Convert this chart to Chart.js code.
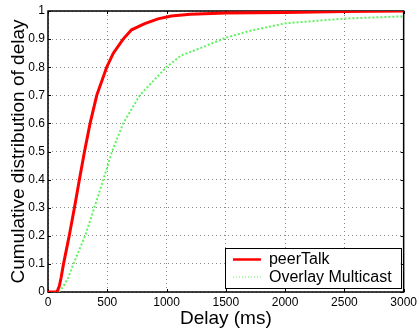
<!DOCTYPE html>
<html>
<head>
<meta charset="utf-8">
<script src="https://cdn.jsdelivr.net/npm/chart.js@4/dist/chart.umd.min.js"></script>
<style>
html,body{margin:0;padding:0;background:#fff;}
canvas{display:block;}
</style>
</head>
<body>
<canvas id="c" width="420" height="329"></canvas>
<script>
// ---- data ----
const seriesNames = ['peerTalk', 'Overlay Multicast'];
const peerTalkDelay = [0, 75, 95, 110, 131, 179, 223, 265, 308, 355, 411, 495, 551, 634, 705, 816, 928, 1040, 1200, 1500, 2000, 2500, 3000];
const peerTalkCdf   = [0, 0, 0.02, 0.05, 0.1, 0.2, 0.3, 0.4, 0.5, 0.6, 0.7, 0.8, 0.85, 0.9, 0.933, 0.955, 0.972, 0.982, 0.988, 0.993, 0.995, 0.998, 1];
const overlayDelay  = [90, 130, 170, 215, 313, 391, 467, 540, 634, 774, 998, 1124, 1279, 1500, 1700, 2000, 2500, 3000];
const overlayCdf    = [0, 0.02, 0.05, 0.1, 0.2, 0.3, 0.4, 0.5, 0.6, 0.7, 0.8, 0.842, 0.867, 0.905, 0.929, 0.956, 0.973, 0.981];
const xTickLabels = ['0', '500', '1000', '1500', '2000', '2500', '3000'];
const yTickLabels = ['0', '0.1', '0.2', '0.3', '0.4', '0.5', '0.6', '0.7', '0.8', '0.9', '1'];
const xTitle = 'Delay (ms)';
const yTitle = 'Cumulative distribution of delay';

const FONT = "'Liberation Sans', Arial, Helvetica, sans-serif";
const toPoints = (xs, ys) => xs.map((x, i) => ({x: x, y: ys[i]}));

const framePlugin = {
  id: 'frame',
  beforeDatasetsDraw(chart) {
    const {ctx, chartArea: a, scales} = chart;
    ctx.save();
    ctx.strokeStyle = '#000';
    ctx.lineWidth = 1;
    const tl = 3;
    ctx.beginPath();
    scales.x.ticks.forEach(t => {
      const px = Math.round(scales.x.getPixelForValue(t.value)) + 0.5;
      ctx.moveTo(px, a.bottom); ctx.lineTo(px, a.bottom - tl);
      ctx.moveTo(px, a.top); ctx.lineTo(px, a.top + tl);
    });
    scales.y.ticks.forEach(t => {
      const py = Math.round(scales.y.getPixelForValue(t.value)) + 0.5;
      ctx.moveTo(a.left, py); ctx.lineTo(a.left + tl, py);
      ctx.moveTo(a.right, py); ctx.lineTo(a.right - tl, py);
    });
    ctx.stroke();
    ctx.lineWidth = 1.5;
    ctx.strokeRect(a.left, a.top, a.right - a.left, a.bottom - a.top);
    ctx.restore();
  }
};

const legendStyles = [{width: 2.5, dash: []}, {width: 1.2, dash: [1, 2]}];

const legendPlugin = {
  id: 'boxLegend',
  afterDraw(chart) {
    const {ctx, chartArea: a} = chart;
    const ds = chart.data.datasets;
    ctx.save();
    ctx.font = '16px ' + FONT;
    const textW = Math.max(...ds.map(d => ctx.measureText(d.label).width));
    const w = 44 + textW + 9, h = 40;
    const right = a.right - 3, bottom = a.bottom - 4;
    const left = right - w, top = bottom - h;
    ctx.fillStyle = '#fff';
    ctx.fillRect(left, top, w, h);
    ctx.strokeStyle = '#000';
    ctx.lineWidth = 1;
    ctx.strokeRect(Math.round(left) + 0.5, Math.round(top) + 0.5, Math.round(w), Math.round(h));
    const rows = [top + 11.5, top + 29];
    ds.forEach((d, i) => {
      const y = rows[i];
      ctx.beginPath();
      ctx.strokeStyle = d.borderColor;
      ctx.lineWidth = legendStyles[i].width;
      ctx.setLineDash(legendStyles[i].dash);
      ctx.moveTo(left + 8, y);
      ctx.lineTo(left + 36, y);
      ctx.stroke();
      ctx.setLineDash([]);
      ctx.fillStyle = '#000';
      ctx.textBaseline = 'middle';
      ctx.textAlign = 'left';
      ctx.fillText(d.label, left + 44, y + 0.5);
    });
    ctx.restore();
  }
};

new Chart(document.getElementById('c'), {
  type: 'line',
  data: {
    datasets: [
      {
        label: seriesNames[0],
        data: toPoints(peerTalkDelay, peerTalkCdf),
        borderColor: '#ff0000',
        borderWidth: 3,
        pointRadius: 0,
        tension: 0,
        fill: false
      },
      {
        label: seriesNames[1],
        data: toPoints(overlayDelay, overlayCdf),
        borderColor: '#5cf55c',
        borderWidth: 2,
        borderDash: [2, 2],
        pointRadius: 0,
        tension: 0,
        fill: false
      }
    ]
  },
  options: {
    responsive: false,
    animation: false,
    devicePixelRatio: 1,
    layout: {padding: {top: 11, right: 15, left: 0, bottom: 0}},
    plugins: {legend: {display: false}, tooltip: {enabled: false}},
    scales: {
      x: {
        type: 'linear',
        min: 0, max: 3000,
        afterFit(s) { s.height = 37; },
        ticks: {
          stepSize: 500,
          padding: 3,
          color: '#000',
          maxRotation: 0,
          font: {family: FONT, size: 12},
          callback: (v, i) => xTickLabels[i]
        },
        grid: {color: '#888', lineWidth: 1, drawTicks: false},
        border: {display: false, dash: [1, 3]},
        title: {display: true, text: xTitle, color: '#000', font: {family: FONT, size: 19, lineHeight: 1}, padding: {top: 0, bottom: 1}}
      },
      y: {
        min: 0, max: 1,
        afterFit(s) { s.width = 48; },
        ticks: {
          stepSize: 0.1,
          padding: 3,
          color: '#000',
          font: {family: FONT, size: 12},
          callback: (v, i) => yTickLabels[i]
        },
        grid: {color: '#888', lineWidth: 1, drawTicks: false},
        border: {display: false, dash: [1, 3]},
        title: {display: true, text: yTitle, color: '#000', font: {family: FONT, size: 19, lineHeight: 1}, padding: {top: 9, bottom: 0}}
      }
    }
  },
  plugins: [framePlugin, legendPlugin]
});
</script>
</body>
</html>
